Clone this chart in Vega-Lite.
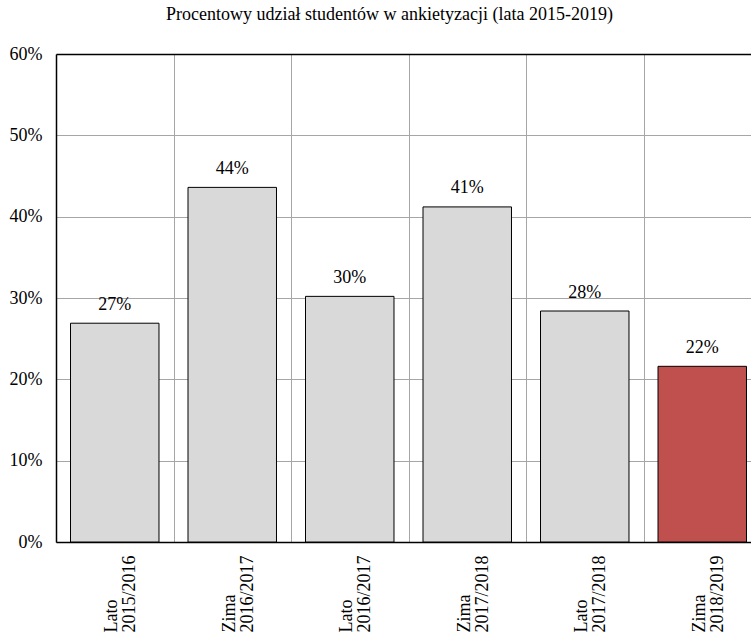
{
  "$schema": "https://vega.github.io/schema/vega-lite/v6.json",
  "autosize": "none",
  "width": 695,
  "height": 488,
  "padding": {"left": 56, "top": 54, "right": 0, "bottom": 93},
  "background": "white",
  "config": {"font": "Liberation Serif", "view": {"stroke": null}},
  "title": {
    "text": "Procentowy udział studentów w ankietyzacji (lata 2015-2019)",
    "font": "Liberation Serif",
    "fontSize": 18,
    "fontWeight": "normal",
    "color": "black",
    "anchor": "middle",
    "frame": "group",
    "dx": -14,
    "baseline": "alphabetic",
    "offset": 7
  },
  "data": {
    "values": [
      {"okres": "Lato 2015/2016", "udzial": 0.269},
      {"okres": "Zima 2016/2017", "udzial": 0.436},
      {"okres": "Lato 2016/2017", "udzial": 0.302},
      {"okres": "Zima 2017/2018", "udzial": 0.412},
      {"okres": "Lato 2017/2018", "udzial": 0.284},
      {"okres": "Zima 2018/2019", "udzial": 0.216}
    ]
  },
  "encoding": {
    "x": {
      "field": "okres",
      "type": "nominal",
      "sort": null,
      "scale": {"paddingInner": 0, "paddingOuter": 0, "rangeMax": 705},
      "axis": {
        "title": null,
        "labelAngle": -90,
        "labelAlign": "left",
        "labelBaseline": "middle",
        "labelPadding": 90,
        "labelOffset": -3,
        "labelFont": "Liberation Serif",
        "labelFontSize": 18,
        "labelLineHeight": 18,
        "labelColor": "black",
        "labelOverlap": false,
        "labelExpr": "split(datum.label, ' ')",
        "ticks": false,
        "tickBand": "extent",
        "grid": true,
        "gridColor": "#a6a6a6",
        "gridWidth": 1,
        "domainColor": "black",
        "domainWidth": 1.5
      }
    },
    "y": {
      "field": "udzial",
      "type": "quantitative",
      "scale": {"domain": [0, 0.6]},
      "axis": {
        "title": null,
        "format": ".0%",
        "values": [0, 0.1, 0.2, 0.3, 0.4, 0.5, 0.6],
        "ticks": false,
        "labelPadding": 14,
        "labelFont": "Liberation Serif",
        "labelFontSize": 18,
        "labelColor": "black",
        "domainColor": "black",
        "domainWidth": 1.5,
        "grid": true,
        "gridColor": {"condition": {"test": "datum.value >= 0.6", "value": "black"}, "value": "#a6a6a6"},
        "gridWidth": {"condition": {"test": "datum.value >= 0.6", "value": 1.5}, "value": 1}
      }
    }
  },
  "layer": [
    {
      "mark": {"type": "bar", "width": {"band": 0.753}, "stroke": "black", "strokeWidth": 1},
      "encoding": {
        "fill": {
          "condition": {"test": "datum.okres == 'Zima 2018/2019'", "value": "#c0504d"},
          "value": "#d9d9d9"
        }
      }
    },
    {
      "mark": {"type": "text", "baseline": "alphabetic", "dy": -13.5, "fontSize": 18, "font": "Liberation Serif", "color": "black"},
      "encoding": {"text": {"field": "udzial", "type": "quantitative", "format": ".0%"}}
    }
  ]
}
